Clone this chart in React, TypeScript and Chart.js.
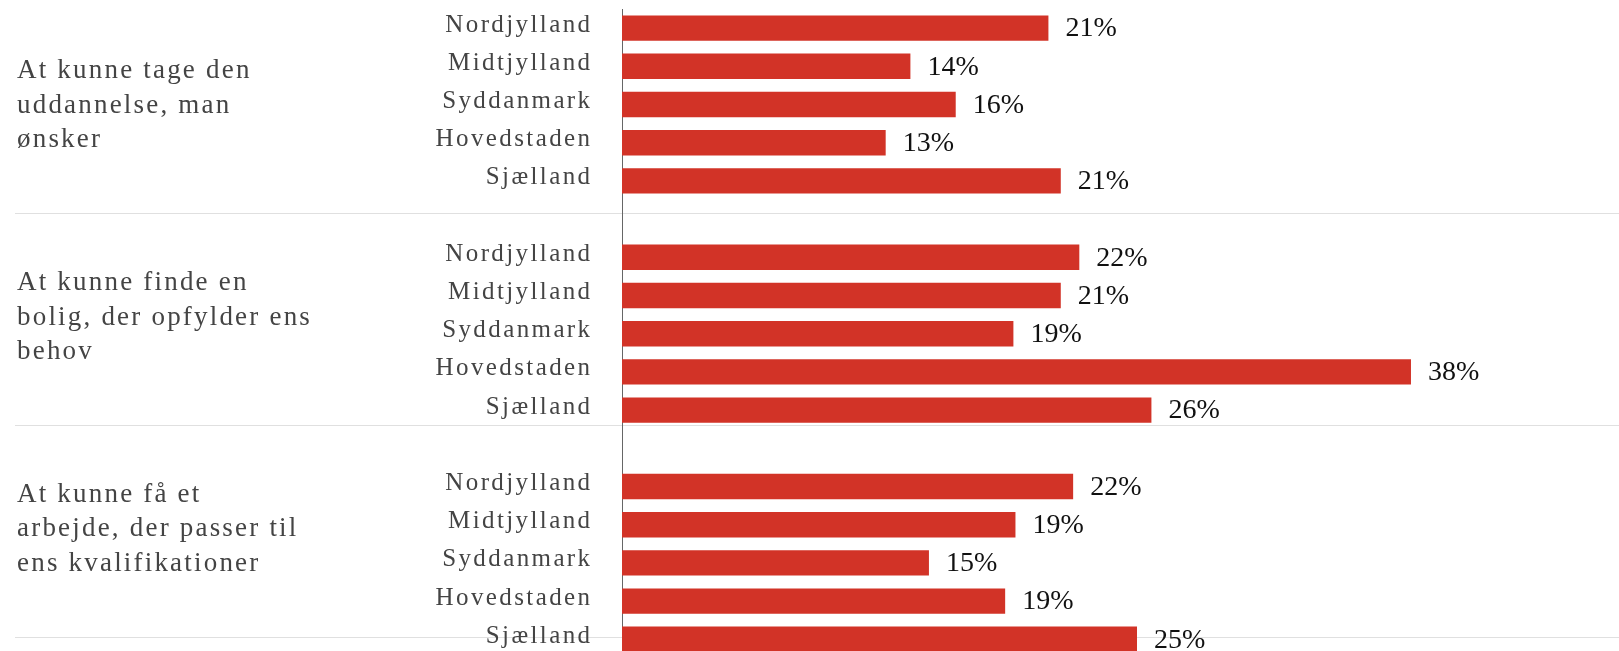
import React, { useEffect, useRef } from "react";
import { Chart, registerables } from "chart.js";

Chart.register(...registerables);

const regions = ["Nordjylland", "Midtjylland", "Syddanmark", "Hovedstaden", "Sjælland"];

const groupTitles: string[][] = [
  ["At kunne tage den", "uddannelse, man", "ønsker"],
  ["At kunne finde en", "bolig, der opfylder ens", "behov"],
  ["At kunne få et", "arbejde, der passer til", "ens kvalifikationer"],
];

const uddannelseValues = [20.7, 14.0, 16.2, 12.8, 21.3];
const boligValues = [22.2, 21.3, 19.0, 38.3, 25.7];
const arbejdeValues = [21.9, 19.1, 14.9, 18.6, 25.0];

const groupValues = [uddannelseValues, boligValues, arbejdeValues];

const FONT = "'Liberation Serif', 'Times New Roman', serif";
const BAR_COLOR = "#d23327";

// build category labels & data with a blank slot between groups
const categoryLabels: string[] = [];
const barData: (number | null)[] = [];
groupValues.forEach((vals, gi) => {
  regions.forEach((r, i) => {
    categoryLabels.push(r);
    barData.push(vals[i]);
  });
  if (gi < groupValues.length - 1) {
    categoryLabels.push("");
    barData.push(null);
  }
});

const decorPlugin = {
  id: "decor",
  beforeDraw(chart: any) {
    const { ctx, chartArea, width } = chart;
    const bandTop = chartArea.top - 7.4;
    const bandH = 211.7;
    ctx.save();
    ctx.strokeStyle = "#e0e0e0";
    ctx.lineWidth = 1;
    for (let k = 1; k <= groupTitles.length; k++) {
      const y = Math.round(bandTop + bandH * k) + 0.5;
      ctx.beginPath();
      ctx.moveTo(15, y);
      ctx.lineTo(width, y);
      ctx.stroke();
    }
    // group titles
    ctx.fillStyle = "#444444";
    ctx.font = `27px ${FONT}`;
    ctx.textAlign = "left";
    ctx.textBaseline = "alphabetic";
    try { (ctx as any).letterSpacing = "2.2px"; } catch (e) {}
    groupTitles.forEach((lines, k) => {
      const center = bandTop + bandH * (k + 0.5);
      const n = lines.length;
      lines.forEach((line, i) => {
        const y = center + 5.5 + (i - (n - 1) / 2) * 34.5;
        ctx.fillText(line, 17, y);
      });
    });
    ctx.restore();
    // letter spacing for tick labels drawn by the scale
    try { (ctx as any).letterSpacing = "2.4px"; } catch (e) {}
  },
  afterDatasetsDraw(chart: any) {
    const { ctx } = chart;
    try { (ctx as any).letterSpacing = "0px"; } catch (e) {}
    const meta = chart.getDatasetMeta(0);
    ctx.save();
    ctx.fillStyle = "#111111";
    ctx.font = `28px ${FONT}`;
    ctx.textAlign = "left";
    ctx.textBaseline = "middle";
    meta.data.forEach((el: any, i: number) => {
      const v = barData[i];
      if (v === null || v === undefined) return;
      ctx.fillText(`${Math.round(v)}%`, el.x + 17, el.y + 1);
    });
    ctx.restore();
  },
  afterDraw(chart: any) {
    try { (chart.ctx as any).letterSpacing = "0px"; } catch (e) {}
  },
};

export default function App() {
  const canvasRef = useRef<HTMLCanvasElement | null>(null);

  useEffect(() => {
    if (!canvasRef.current) return;
    const chart = new Chart(canvasRef.current, {
      type: "bar",
      data: {
        labels: categoryLabels,
        datasets: [
          {
            data: barData as any,
            backgroundColor: BAR_COLOR,
            borderWidth: 0,
            categoryPercentage: 1,
            barPercentage: 0.665,
          },
        ],
      },
      options: {
        indexAxis: "y",
        animation: false,
        responsive: true,
        maintainAspectRatio: false,
        layout: { padding: { top: 9, bottom: 21.6, left: 0, right: 49.4 } },
        plugins: {
          legend: { display: false },
          tooltip: { enabled: false },
        },
        scales: {
          x: {
            display: false,
            min: 0,
            max: 46,
          },
          y: {
            afterFit: (scale: any) => {
              scale.width = 622;
              scale.paddingTop = 0;
              scale.paddingBottom = 0;
            },
            grid: { display: false, drawTicks: true, tickLength: 29.5 },
            border: { display: true, color: "#666666", width: 1 },
            ticks: {
              color: "#444444",
              font: { family: FONT, size: 25 },
              padding: 0,
              labelOffset: -3,
              autoSkip: false,
            },
          },
        },
      },
      plugins: [decorPlugin],
    });
    return () => chart.destroy();
  }, []);

  return (
    <div
      style={{
        position: "fixed",
        left: 0,
        top: 0,
        width: 1619,
        height: 651,
        overflow: "hidden",
        background: "#ffffff",
      }}
    >
      <div style={{ position: "relative", width: 1619, height: 680 }}>
        <canvas ref={canvasRef} />
      </div>
    </div>
  );
}
